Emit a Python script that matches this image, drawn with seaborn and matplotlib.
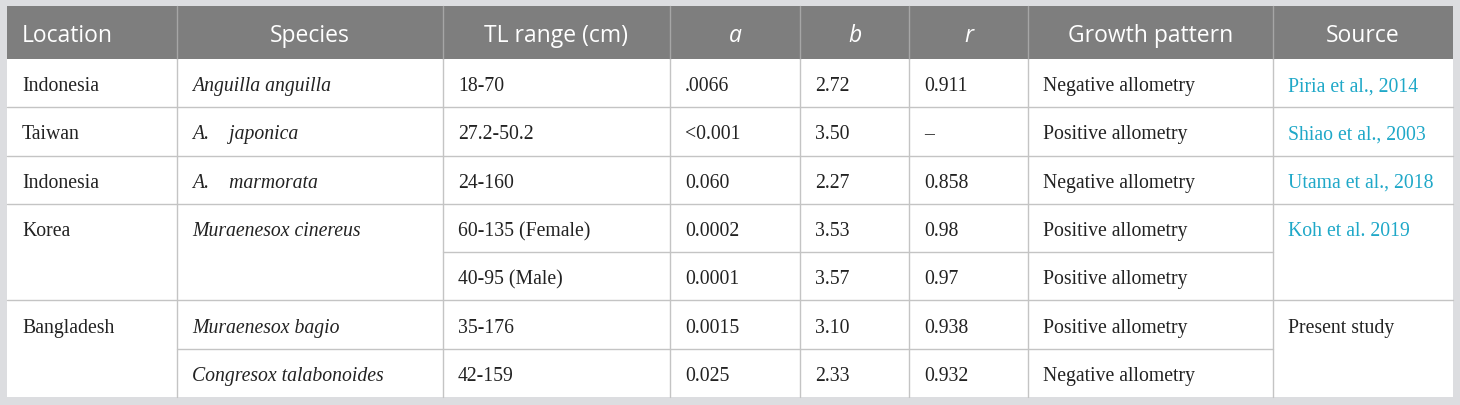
import matplotlib
matplotlib.use("Agg")
import matplotlib.pyplot as plt
from matplotlib.patches import Rectangle
import seaborn as sns

# table content
headers = ["Location", "Species", "TL range (cm)", "a", "b", "r", "Growth pattern", "Source"]
header_italic = [False, False, False, True, True, True, False, False]
header_align = ["left", "center", "center", "center", "center", "center", "center", "center"]

locations = ["Indonesia", "Taiwan", "Indonesia", "Korea", None, "Bangladesh", None]
species = ["Anguilla anguilla", "A.    japonica", "A.    marmorata", "Muraenesox cinereus", None,
           "Muraenesox bagio", "Congresox talabonoides"]
tl_range = ["18-70", "27.2-50.2", "24-160", "60-135 (Female)", "40-95 (Male)", "35-176", "42-159"]
a_vals = [".0066", "<0.001", "0.060", "0.0002", "0.0001", "0.0015", "0.025"]
b_vals = ["2.72", "3.50", "2.27", "3.53", "3.57", "3.10", "2.33"]
r_vals = ["0.911", "\u2013", "0.858", "0.98", "0.97", "0.938", "0.932"]
growth = ["Negative allometry", "Positive allometry", "Negative allometry", "Positive allometry",
          "Positive allometry", "Positive allometry", "Negative allometry"]
sources = ["Piria et al., 2014", "Shiao et al., 2003", "Utama et al., 2018", "Koh et al. 2019", None,
           "Present study", None]
source_link = [True, True, True, True, False, False, False]

# layout in pixels
col_edges = [7, 177, 443, 670, 800, 909, 1028, 1273, 1453]
top, header_bottom, bottom = 7, 60, 398
n_rows = len(tl_range)
row_h = (bottom - header_bottom) / n_rows
row_edges = [header_bottom + i * row_h for i in range(n_rows + 1)]

# line above row i is left out in these columns (merged cells)
merged_above = {4: [0, 1, 7], 6: [0, 7]}

bg = "#dcdde0"
header_bg = "#7e7e7e"
grid = "#c4c4c4"
link = "#1fa8c8"
text_col = "#222222"

sns.set_style("white")
plt.rcParams["font.family"] = ["Liberation Serif", "DejaVu Serif"]

fig = plt.figure(figsize=(14.6, 4.06), dpi=100)
fig.patch.set_facecolor(bg)
ax = fig.add_axes([0, 0, 1, 1])
ax.set_xlim(0, 1460)
ax.set_ylim(406, 0)
ax.axis("off")

# body and header backgrounds
ax.add_patch(Rectangle((col_edges[0], top), col_edges[-1] - col_edges[0], bottom - top,
                       facecolor="white", edgecolor="none"))
ax.add_patch(Rectangle((col_edges[0], top), col_edges[-1] - col_edges[0], header_bottom - top,
                       facecolor=header_bg, edgecolor="none"))

# header separators
for x in col_edges[1:-1]:
    ax.plot([x, x], [top, header_bottom], color="#a6a6a6", lw=1)
# body vertical lines
for x in col_edges[1:-1]:
    ax.plot([x, x], [header_bottom, bottom], color=grid, lw=1)

# horizontal lines between rows, skipping merged columns
for i in range(1, n_rows):
    y = row_edges[i]
    skip = merged_above.get(i, [])
    for c in range(len(col_edges) - 1):
        if c in skip:
            continue
        ax.plot([col_edges[c], col_edges[c + 1]], [y, y], color=grid, lw=1)

# header texts
for c, (h, it, al) in enumerate(zip(headers, header_italic, header_align)):
    yc = (top + header_bottom) / 2
    x = col_edges[c] + 15 if al == "left" else (col_edges[c] + col_edges[c + 1]) / 2
    ax.text(x, yc + 2.5, h, ha=al, va="center", color="white", fontsize=16.5,
            family=["Open Sans", "DejaVu Sans"], style="italic" if it else "normal")

# body texts
columns = [locations, species, tl_range, a_vals, b_vals, r_vals, growth, sources]
pad = 15
for c, vals in enumerate(columns):
    for i, v in enumerate(vals):
        if v is None:
            continue
        yc = (row_edges[i] + row_edges[i + 1]) / 2
        color = text_col
        if c == 7 and source_link[i]:
            color = link
        ax.text(col_edges[c] + pad, yc + 2.5, v, ha="left", va="center", fontsize=14.2,
                color=color, style="italic" if c == 1 else "normal")

fig.savefig("out.png", dpi=100, facecolor=bg)
